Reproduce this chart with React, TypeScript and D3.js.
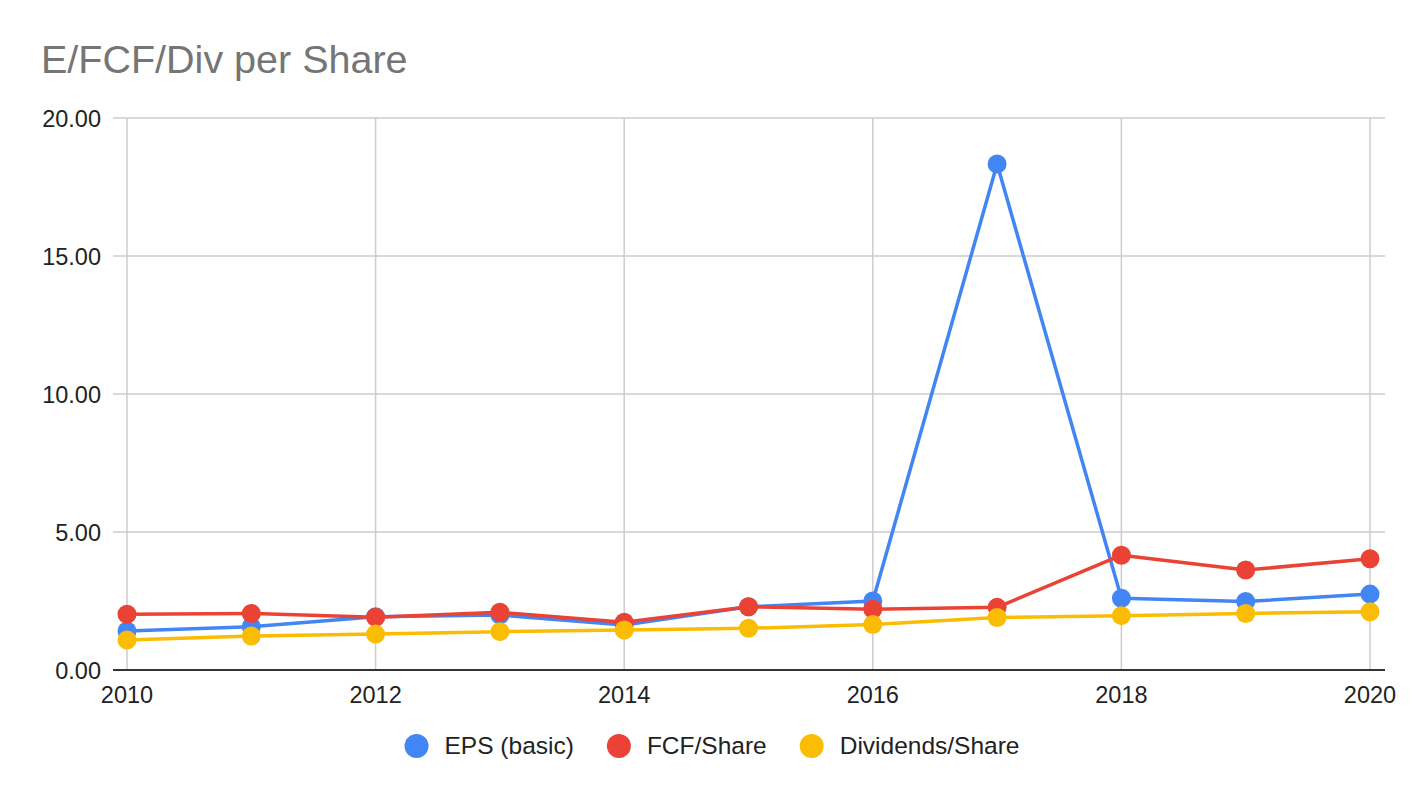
import React, { useMemo } from "react";
import * as d3 from "d3";

const years = [2010, 2011, 2012, 2013, 2014, 2015, 2016, 2017, 2018, 2019, 2020];
const eps = [1.41, 1.57, 1.93, 1.99, 1.63, 2.29, 2.5, 18.33, 2.6, 2.48, 2.75];
const fcf = [2.02, 2.05, 1.91, 2.09, 1.73, 2.29, 2.2, 2.27, 4.16, 3.62, 4.03];
const div = [1.09, 1.23, 1.3, 1.39, 1.45, 1.51, 1.65, 1.9, 1.97, 2.05, 2.11];
const xTicks = [2010, 2012, 2014, 2016, 2018, 2020];
const yTicks = [0, 5, 10, 15, 20];
const seriesNames = ["EPS (basic)", "FCF/Share", "Dividends/Share"];
const seriesColors = ["#4285F4", "#EA4335", "#FBBC04"];
const title = "E/FCF/Div per Share";

const W = 1424;
const H = 798;
const FONT = "Arial, 'Liberation Sans', sans-serif";

function measure(text: string, size: number) {
  if (typeof document === "undefined") return text.length * size * 0.5;
  const c = document.createElement("canvas");
  const ctx = c.getContext("2d");
  if (!ctx) return text.length * size * 0.5;
  ctx.font = `${size}px Arial, 'Liberation Sans', sans-serif`;
  return ctx.measureText(text).width;
}

export default function App() {
  const x = d3.scaleLinear().domain([2010, 2020]).range([127, 1370]);
  const y = d3.scaleLinear().domain([0, 20]).range([670, 118]);
  const gridLeft = 113;
  const gridRight = 1385;
  const series = [eps, fcf, div];
  const line = d3
    .line<number>()
    .x((_, i) => x(years[i]))
    .y((d) => y(d));

  const legendFont = 24.5;
  const legend = useMemo(() => {
    const r = 12;
    const gapCircleText = 16;
    const gapItems = 33;
    const widths = seriesNames.map((n) => measure(n, legendFont));
    const total =
      widths.reduce((a, b) => a + b, 0) +
      seriesNames.length * (2 * r + gapCircleText) +
      (seriesNames.length - 1) * gapItems;
    let cx = W / 2 - total / 2;
    return seriesNames.map((n, i) => {
      const item = { name: n, color: seriesColors[i], cx: cx + r, tx: cx + 2 * r + gapCircleText };
      cx += 2 * r + gapCircleText + widths[i] + gapItems;
      return item;
    });
  }, []);

  return (
    <svg
      width={W}
      height={H}
      style={{ position: "absolute", left: 0, top: 0, background: "#fff", fontFamily: FONT }}
    >
      <rect x={0} y={0} width={W} height={H} fill="#fff" />
      <text x={41} y={73} fontSize={39.5} fill="#757575">
        {title}
      </text>
      {yTicks.map((t) => (
        <g key={"y" + t}>
          {t !== 0 && (
            <line x1={gridLeft} x2={gridRight} y1={y(t)} y2={y(t)} stroke="#cccccc" strokeWidth={1.5} />
          )}
          <text x={101} y={y(t) + 8.5} fontSize={23.5} textAnchor="end" fill="#222">
            {t.toFixed(2)}
          </text>
        </g>
      ))}
      {xTicks.map((t) => (
        <g key={"x" + t}>
          <line x1={x(t)} x2={x(t)} y1={y(20)} y2={y(0)} stroke="#cccccc" strokeWidth={1.5} />
          <text x={x(t)} y={703} fontSize={23.5} textAnchor="middle" fill="#222">
            {t}
          </text>
        </g>
      ))}
      <line x1={gridLeft} x2={gridRight} y1={y(0)} y2={y(0)} stroke="#333" strokeWidth={2} />
      {series.map((s, si) => (
        <g key={"s" + si}>
          <path d={line(s) || ""} fill="none" stroke={seriesColors[si]} strokeWidth={3.5} strokeLinejoin="round" />
          {s.map((v, i) => (
            <circle key={i} cx={x(years[i])} cy={y(v)} r={9.5} fill={seriesColors[si]} />
          ))}
        </g>
      ))}
      {legend.map((l) => (
        <g key={l.name}>
          <circle cx={l.cx} cy={746} r={12} fill={l.color} />
          <text x={l.tx} y={754} fontSize={legendFont} fill="#222">
            {l.name}
          </text>
        </g>
      ))}
    </svg>
  );
}
